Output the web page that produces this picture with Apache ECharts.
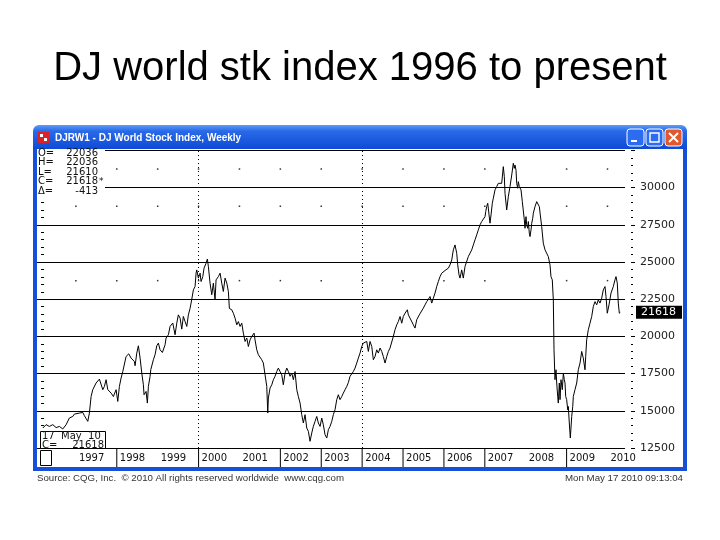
<!DOCTYPE html>
<html>
<head>
<meta charset="utf-8">
<script src="https://cdn.jsdelivr.net/npm/echarts@6/dist/echarts.min.js"></script>
<style>
  html, body { margin: 0; padding: 0; background: #fff; }
  #main { width: 720px; height: 540px; }
</style>
</head>
<body>
<div id="main"></div>
<script>
// weekly closes, time as decimal years
var years = [
  1996.191, 1996.271, 1996.352, 1996.435, 1996.516, 1996.597, 1996.680, 1996.760, 1996.841, 1996.924,
  1996.963, 1997.005, 1997.086, 1997.169, 1997.208, 1997.249, 1997.291, 1997.330, 1997.372, 1997.413,
  1997.494, 1997.575, 1997.658, 1997.697, 1997.738, 1997.780, 1997.861, 1997.917, 1997.983, 1998.024,
  1998.064, 1998.105, 1998.147, 1998.227, 1998.293, 1998.350, 1998.430, 1998.447, 1998.489, 1998.528,
  1998.570, 1998.611, 1998.650, 1998.667, 1998.716, 1998.748, 1998.773, 1998.814, 1998.831, 1998.895,
  1998.936, 1998.978, 1999.017, 1999.059, 1999.115, 1999.181, 1999.205, 1999.262, 1999.303, 1999.369,
  1999.425, 1999.467, 1999.506, 1999.548, 1999.589, 1999.628, 1999.670, 1999.712, 1999.751, 1999.792,
  1999.834, 1999.873, 1999.914, 1999.939, 1999.956, 1999.995, 2000.037, 2000.061, 2000.103, 2000.134,
  2000.183, 2000.215, 2000.240, 2000.281, 2000.323, 2000.362, 2000.403, 2000.428, 2000.484, 2000.526,
  2000.567, 2000.606, 2000.648, 2000.690, 2000.729, 2000.753, 2000.812, 2000.851, 2000.892, 2000.934,
  2000.973, 2001.015, 2001.056, 2001.095, 2001.137, 2001.179, 2001.218, 2001.259, 2001.301, 2001.357,
  2001.381, 2001.423, 2001.462, 2001.504, 2001.545, 2001.584, 2001.626, 2001.668, 2001.692, 2001.707,
  2001.748, 2001.790, 2001.829, 2001.870, 2001.912, 2001.951, 2001.993, 2002.034, 2002.073, 2002.115,
  2002.157, 2002.196, 2002.237, 2002.279, 2002.318, 2002.359, 2002.401, 2002.440, 2002.482, 2002.523,
  2002.562, 2002.604, 2002.646, 2002.685, 2002.726, 2002.768, 2002.807, 2002.848, 2002.890, 2002.929,
  2002.971, 2003.012, 2003.051, 2003.093, 2003.135, 2003.174, 2003.215, 2003.257, 2003.296, 2003.337,
  2003.379, 2003.418, 2003.460, 2003.501, 2003.540, 2003.582, 2003.624, 2003.663, 2003.704, 2003.746,
  2003.785, 2003.826, 2003.868, 2003.907, 2003.949, 2003.990, 2004.029, 2004.071, 2004.113, 2004.152,
  2004.193, 2004.235, 2004.274, 2004.315, 2004.357, 2004.396, 2004.438, 2004.479, 2004.518, 2004.560,
  2004.602, 2004.641, 2004.682, 2004.724, 2004.763, 2004.804, 2004.846, 2004.885, 2004.927, 2004.968,
  2005.007, 2005.049, 2005.105, 2005.130, 2005.171, 2005.213, 2005.252, 2005.293, 2005.335, 2005.398,
  2005.496, 2005.538, 2005.580, 2005.619, 2005.660, 2005.702, 2005.741, 2005.782, 2005.824, 2005.863,
  2005.905, 2005.946, 2005.985, 2006.027, 2006.068, 2006.108, 2006.149, 2006.191, 2006.230, 2006.271,
  2006.313, 2006.337, 2006.369, 2006.394, 2006.435, 2006.474, 2006.516, 2006.558, 2006.597, 2006.638,
  2006.680, 2006.719, 2006.760, 2006.802, 2006.841, 2006.883, 2006.924, 2006.963, 2007.005, 2007.022,
  2007.046, 2007.071, 2007.086, 2007.103, 2007.127, 2007.152, 2007.183, 2007.208, 2007.249, 2007.291,
  2007.330, 2007.372, 2007.413, 2007.452, 2007.477, 2007.494, 2007.535, 2007.575, 2007.616, 2007.658,
  2007.697, 2007.721, 2007.738, 2007.763, 2007.780, 2007.804, 2007.819, 2007.844, 2007.861, 2007.885,
  2007.917, 2007.941, 2007.966, 2007.983, 2008.007, 2008.024, 2008.049, 2008.064, 2008.088, 2008.105,
  2008.130, 2008.147, 2008.171, 2008.186, 2008.227, 2008.269, 2008.293, 2008.308, 2008.333, 2008.357,
  2008.391, 2008.430, 2008.472, 2008.513, 2008.552, 2008.594, 2008.618, 2008.650, 2008.675, 2008.692,
  2008.716, 2008.741, 2008.758, 2008.782, 2008.797, 2008.822, 2008.839, 2008.863, 2008.895, 2008.920,
  2008.944, 2008.961, 2008.978, 2009.002, 2009.027, 2009.042, 2009.066, 2009.091, 2009.125, 2009.150,
  2009.164, 2009.205, 2009.247, 2009.286, 2009.328, 2009.369, 2009.408, 2009.450, 2009.467, 2009.491,
  2009.531, 2009.572, 2009.614, 2009.653, 2009.694, 2009.736, 2009.775, 2009.816, 2009.858, 2009.897,
  2009.939, 2009.963, 2009.995, 2010.037, 2010.086, 2010.142, 2010.183, 2010.208, 2010.240, 2010.264,
  2010.289, 2010.313
];
var closes = [
  13840, 14070, 13950, 14070, 13870, 13950, 13780, 14060, 14520, 14620,
  14780, 14670, 14850, 14890, 14670, 14620, 14290, 14850, 15960, 16420,
  16870, 17130, 16420, 16640, 17090, 16420, 16190, 15960, 16420, 15630,
  16640, 17200, 17640, 18650, 18830, 18540, 18320, 18030, 18880, 19370,
  18540, 17540, 16750, 16080, 16300, 15520, 16640, 17320, 17760, 18430,
  18770, 19370, 19550, 19100, 18920, 19440, 19890, 20110, 20670, 20900,
  20110, 20890, 21450, 21230, 20490, 21340, 21000, 20670, 21450, 21880,
  22500, 23130, 23350, 24250, 24470, 23920, 24250, 23690, 24020, 24590,
  24920, 25200, 24700, 23580, 22800, 23580, 22460, 23800, 24020, 24250,
  23580, 23020, 23920, 23580, 23020, 21880, 21790, 21560, 21230, 20780,
  21000, 20670, 20890, 20220, 19660, 19890, 19320, 19770, 20000, 20220,
  19770, 19100, 18770, 18650, 18430, 18210, 17420, 16640, 14850, 15860,
  16530, 16750, 17090, 17320, 17640, 17870, 17640, 17420, 16750, 17540,
  17870, 17640, 17320, 17540, 17090, 17640, 16420, 15960, 15520, 14740,
  14180, 14740, 13840, 13620, 12950, 13510, 13950, 14290, 14620, 14180,
  13950, 14510, 14060, 13390, 13170, 13730, 13950, 14290, 14740, 15070,
  15750, 16080, 15750, 15960, 16190, 16420, 16640, 16900, 17320, 17420,
  17640, 17870, 18210, 18540, 18880, 19320, 19550, 19440, 19660, 18990,
  19660, 19320, 18430, 18650, 19100, 18880, 19220, 18990, 18650, 18210,
  18650, 18990, 19220, 19320, 20000, 20450, 20780, 21000, 21340, 20890,
  21340, 21560, 21790, 21450, 21230, 21120, 20780, 20560, 21120, 21450,
  21900, 22120, 22340, 22500, 22680, 22240, 22570, 22910, 23350, 23690,
  24020, 24250, 24360, 24430, 24470, 24590, 24810, 25140, 25820, 26150,
  25590, 24810, 24140, 23920, 24470, 23920, 24700, 24810, 25370, 25370,
  25820, 26150, 26490, 26830, 27160, 27500, 27720, 27830, 28050, 28390,
  28730, 28950, 28620, 28170, 27610, 28170, 28950, 29290, 29850, 30070,
  30290, 30400, 30290, 31410, 30740, 29620, 28500, 29400, 30070, 30850,
  31640, 31300, 31520, 31170, 30290, 29960, 30400, 30070, 30180, 29850,
  29060, 28950, 27830, 27270, 28050, 27500, 27270, 27720, 26940, 26710,
  27160, 27610, 27940, 28280, 28720, 29060, 29170, 29060, 28720, 28170,
  27380, 26270, 25820, 25700, 25370, 24810, 24020, 23800, 22460, 19100,
  17090, 17760, 16870, 15960, 15520, 16870, 15750, 17090, 16420, 17540,
  17090, 16870, 15960, 15750, 15070, 15290, 14180, 13170, 14620, 15290,
  15960, 16420, 16870, 17760, 18210, 18990, 18540, 17760, 18650, 19770,
  20450, 20890, 21340, 22010, 22340, 22120, 22460, 22240, 22570, 23130,
  23350, 22680, 21560, 22120, 22910, 23350, 23800, 24020, 23580, 22240,
  21560, 21618
];
var yearLabels = [1997, 1998, 1999, 2000, 2001, 2002, 2003, 2004, 2005, 2006, 2007, 2008, 2009, 2010];
var separatorYears = [1998, 2000, 2002, 2003, 2004, 2005, 2006, 2007, 2009];
var dottedYears = [2000, 2004];
var dotYears = [1997, 1998, 1999, 2000, 2001, 2002, 2003, 2004, 2005, 2006, 2007, 2009, 2010];
var dotLevels = [31250, 28750, 23750];
var priceLabels = [12500, 15000, 17500, 20000, 22500, 25000, 27500, 30000];
var lastClose = 21618;
var infoRows = [['O=', '22036'], ['H=', '22036'], ['L=', '21610'], ['C=', '21618'], ['\u0394=', '-413']];

var seriesData = years.map(function (t, i) { return [t, closes[i]]; });
var dots = [];
dotYears.forEach(function (y) {
  dotLevels.forEach(function (v) { dots.push([y, v]); });
});

var chart = echarts.init(document.getElementById('main'));

var axisFont = 'DejaVu Sans';
var infoGraphics = [];
infoRows.forEach(function (row, i) {
  var y = 153 + i * 9.6;
  infoGraphics.push({ type: 'text', z: 101, style: { x: 38, y: y, text: row[0], font: '10px "DejaVu Sans"', fill: '#111', verticalAlign: 'middle' } });
  infoGraphics.push({ type: 'text', z: 101, style: { x: 98, y: y, text: row[1], font: '10px "DejaVu Sans"', fill: '#111', align: 'right', verticalAlign: 'middle' } });
});
infoGraphics.push({ type: 'text', z: 101, style: { x: 99, y: 153 + 3 * 9.6, text: '*', font: '9px "DejaVu Sans"', fill: '#111', verticalAlign: 'middle' } });

var option = {
  animation: false,
  backgroundColor: '#fff',
  grid: [
    { left: 35, top: 150, width: 590, height: 298 },
    { left: 35, top: 448, width: 590, height: 19 }
  ],
  xAxis: [
    {
      gridIndex: 0, type: 'value', min: 1996, max: 2010.428,
      axisLine: { show: false }, axisTick: { show: false }, axisLabel: { show: false }, splitLine: { show: false }
    },
    {
      gridIndex: 1, type: 'value', min: 1996, max: 2010.428, interval: 1,
      axisLine: { show: false }, axisTick: { show: false }, splitLine: { show: false },
      axisLabel: {
        inside: true, margin: 4, align: 'left', padding: [0, 0, 0, 3],
        showMaxLabel: false, showMinLabel: false,
        color: '#111', fontFamily: axisFont, fontSize: 10,
        formatter: function (v) { return yearLabels.indexOf(v) >= 0 ? String(v) : ''; }
      }
    }
  ],
  yAxis: [
    {
      gridIndex: 0, type: 'value', min: 12500, max: 32530, interval: 2500, position: 'left', offset: -6,
      axisLine: { show: false },
      axisTick: { show: true, inside: true, length: 4, lineStyle: { color: '#000' } },
      minorTick: { show: true, splitNumber: 5, length: 3, lineStyle: { color: '#000' } },
      axisLabel: { show: false },
      splitLine: { show: true, showMaxLine: false, lineStyle: { color: '#000', width: 1 } }
    },
    {
      gridIndex: 0, type: 'value', min: 12500, max: 32530, interval: 2500, position: 'right', offset: 6,
      axisLine: { show: false },
      axisTick: { show: true, length: 4, lineStyle: { color: '#000' } },
      minorTick: { show: true, splitNumber: 5, length: 2, lineStyle: { color: '#000' } },
      axisLabel: {
        show: true, margin: 9, color: '#222', fontFamily: axisFont, fontSize: 11,
        formatter: function (v) { return priceLabels.indexOf(v) >= 0 ? String(v) : ''; }
      },
      splitLine: { show: false }
    },
    { gridIndex: 1, type: 'value', min: 0, max: 1, show: false }
  ],
  series: [
    {
      type: 'scatter', xAxisIndex: 0, yAxisIndex: 0, data: dots,
      symbol: 'rect', symbolSize: 1.5, itemStyle: { color: '#000' }, silent: true
    },
    {
      type: 'line', xAxisIndex: 0, yAxisIndex: 0, data: seriesData,
      showSymbol: false, lineStyle: { color: '#000', width: 1 }, silent: true,
      markLine: {
        silent: true, symbol: 'none', animation: false,
        data: dottedYears.map(function (y) {
          return { xAxis: y, lineStyle: { color: '#000', type: [1, 3], width: 1 }, label: { show: false } };
        }).concat([{
          yAxis: lastClose,
          lineStyle: { color: 'rgba(0,0,0,0)', width: 1, type: 'solid' },
          label: {
            show: true, position: 'end', distance: 11, formatter: String(lastClose),
            backgroundColor: '#000', color: '#fff', padding: [1, 6, 1, 5],
            fontFamily: axisFont, fontSize: 11
          }
        }])
      }
    },
    {
      type: 'bar', xAxisIndex: 1, yAxisIndex: 2, barWidth: 1,
      data: separatorYears.map(function (y) { return [y, 1]; }),
      itemStyle: { color: '#000' }, silent: true
    }
  ],
  graphic: [
    // slide title
    { type: 'text', style: { x: 360, y: 69, text: 'DJ world stk index 1996 to present', font: '40px "Liberation Sans"', fill: '#000', align: 'center', verticalAlign: 'middle' } },
    // window frame
    {
      type: 'rect', z: 90, shape: { x: 33, y: 125, width: 654, height: 24, r: [6, 6, 0, 0] },
      style: { fill: new echarts.graphic.LinearGradient(0, 0, 0, 1, [
        { offset: 0, color: '#5c9cf8' }, { offset: 0.25, color: '#2a6ae8' }, { offset: 1, color: '#0d4bd6' }
      ]) }
    },
    { type: 'rect', z: 90, shape: { x: 33, y: 149, width: 4, height: 322 }, style: { fill: '#1650d8' } },
    { type: 'rect', z: 90, shape: { x: 683, y: 149, width: 4, height: 322 }, style: { fill: '#1650d8' } },
    { type: 'rect', z: 90, shape: { x: 33, y: 467, width: 654, height: 4 }, style: { fill: '#1650d8' } },
    // window icon
    { type: 'rect', z: 91, shape: { x: 38, y: 132, width: 11, height: 11 }, style: { fill: '#d8232a' } },
    { type: 'rect', z: 92, shape: { x: 40, y: 134, width: 3, height: 3 }, style: { fill: '#fff' } },
    { type: 'rect', z: 92, shape: { x: 44, y: 138, width: 3, height: 3 }, style: { fill: '#fff' } },
    { type: 'text', z: 91, style: { x: 55, y: 138, text: 'DJRW1 - DJ World Stock Index, Weekly', font: 'bold 10px "Liberation Sans"', fill: '#fff', verticalAlign: 'middle' } },
    // buttons
    { type: 'rect', z: 91, shape: { x: 627, y: 129, width: 17, height: 17, r: 3 }, style: { fill: '#2b6cf0', stroke: '#fff', lineWidth: 1 } },
    { type: 'rect', z: 92, shape: { x: 631, y: 140, width: 6, height: 2 }, style: { fill: '#fff' } },
    { type: 'rect', z: 91, shape: { x: 646, y: 129, width: 17, height: 17, r: 3 }, style: { fill: '#2b6cf0', stroke: '#fff', lineWidth: 1 } },
    { type: 'rect', z: 92, shape: { x: 650, y: 133, width: 9, height: 9 }, style: { fill: 'none', stroke: '#fff', lineWidth: 1.4 } },
    { type: 'rect', z: 91, shape: { x: 665, y: 129, width: 17, height: 17, r: 3 }, style: { fill: '#e0582e', stroke: '#fff', lineWidth: 1 } },
    { type: 'line', z: 92, shape: { x1: 669, y1: 133, x2: 678, y2: 142 }, style: { stroke: '#fff', lineWidth: 2 } },
    { type: 'line', z: 92, shape: { x1: 678, y1: 133, x2: 669, y2: 142 }, style: { stroke: '#fff', lineWidth: 2 } },
    // info box
    { type: 'rect', z: 100, shape: { x: 37, y: 150, width: 68, height: 46 }, style: { fill: '#fff' } }
  ].concat(infoGraphics).concat([
    // last bar box
    { type: 'rect', z: 100, shape: { x: 40.5, y: 431.5, width: 65, height: 17 }, style: { fill: '#fff', stroke: '#000', lineWidth: 1 } },
    { type: 'text', z: 101, style: { x: 42, y: 436, text: '17  May  10', font: '10px "DejaVu Sans"', fill: '#111', verticalAlign: 'middle' } },
    { type: 'text', z: 101, style: { x: 42, y: 445, text: 'C=', font: '10px "DejaVu Sans"', fill: '#111', verticalAlign: 'middle' } },
    { type: 'text', z: 101, style: { x: 104, y: 445, text: '21618', font: '10px "DejaVu Sans"', fill: '#111', align: 'right', verticalAlign: 'middle' } },
    { type: 'rect', z: 100, shape: { x: 40.5, y: 450.5, width: 11, height: 15 }, style: { fill: '#fff', stroke: '#000', lineWidth: 1 } },
    // footer
    { type: 'text', style: { x: 37, y: 478, text: 'Source: CQG, Inc.  \u00a9 2010 All rights reserved worldwide  www.cqg.com', font: '9.7px "Liberation Sans"', fill: '#333', verticalAlign: 'middle' } },
    { type: 'text', style: { x: 683, y: 478, text: 'Mon May 17 2010 09:13:04', font: '9.7px "Liberation Sans"', fill: '#333', align: 'right', verticalAlign: 'middle' } }
  ])
};

chart.setOption(option);
</script>
</body>
</html>
